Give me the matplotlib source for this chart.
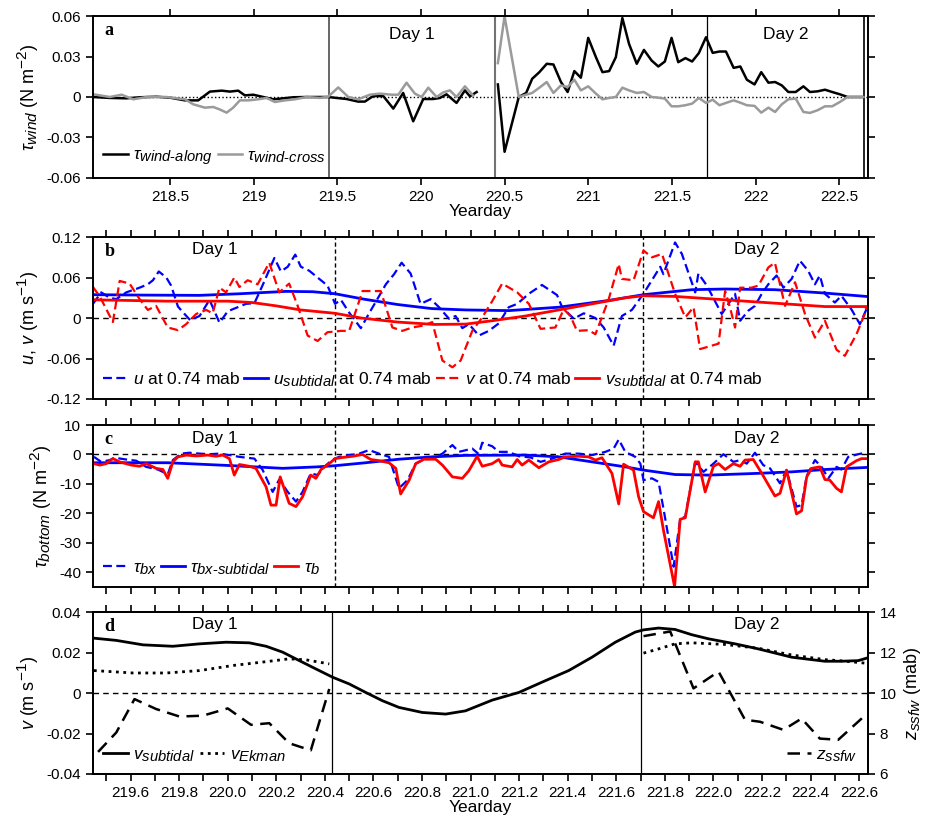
import matplotlib.pyplot as plt
import matplotlib._mathtext as mathtext_impl
from matplotlib.ticker import MultipleLocator, FuncFormatter

plt.rcParams['font.family'] = ['Liberation Sans', 'DejaVu Sans']
plt.rcParams['font.size'] = 11
plt.rcParams['mathtext.fontset'] = 'custom'
plt.rcParams['mathtext.rm'] = 'Liberation Sans'
plt.rcParams['mathtext.it'] = 'Liberation Sans:italic'
plt.rcParams['mathtext.bf'] = 'Liberation Sans:bold'
plt.rcParams['axes.linewidth'] = 1.4
# larger sub/superscripts for the long italic subscripts
mathtext_impl.SHRINK_FACTOR = 0.85

# ---- panel a: wind stress ----
wind_t1 = [218.042, 218.141, 218.241, 218.321, 218.420, 218.500, 218.590, 218.669, 218.709, 218.739,
           218.809, 218.859, 218.908, 218.948, 218.998, 219.058, 219.118, 219.177, 219.237, 219.317,
           219.396, 219.446, 219.496, 219.556, 219.625, 219.665, 219.715, 219.775, 219.835, 219.894,
           219.954, 220.014, 220.074, 220.114, 220.153, 220.213, 220.263, 220.293, 220.333]
along_1 = [0, -0.0007, -0.001, -0.0002, 0.0002, -0.0005, -0.0025, -0.0025, 0.0012, 0.004,
           0.0047, 0.004, 0.0047, 0.0012, 0.0017, 0, -0.0017, -0.001, -0.0002, 0,
           0, 0.0, -0.0007, -0.0015, -0.0034, -0.0034, 0.0007, 0.0007, -0.0086, 0.003,
           -0.018, -0.0015, -0.0015, -0.0007, 0.002, -0.0044, 0.0049, 0.0005, 0.0037]
cross_t1 = [218.042, 218.141, 218.211, 218.281, 218.361, 218.480, 218.590, 218.639, 218.709, 218.759,
            218.799, 218.839, 218.878, 218.918, 218.968, 219.028, 219.078, 219.127, 219.187, 219.247,
            219.317, 219.396, 219.446, 219.506, 219.566, 219.625, 219.695, 219.755, 219.825, 219.865,
            219.914, 219.964, 220.004, 220.044, 220.094, 220.133, 220.173, 220.213, 220.263, 220.313]
cross_1 = [0.002, 0, 0.0017, -0.0017, 0, 0, -0.0017, -0.0054, -0.0079, -0.0074,
           -0.0093, -0.0116, -0.0079, -0.0025, -0.0025, -0.0017, -0.0007, -0.0037, -0.0025, -0.0017,
           0, -0.0007, 0.0002, 0.0071, 0, -0.0017, 0.0017, 0.0025, 0.0017, 0.0017,
           0.0106, 0.0025, 0, 0.0069, 0, 0.0034, 0.0049, 0, 0.0079, 0.001]
wind_t2 = [220.460, 220.500, 220.585, 220.629, 220.665, 220.708, 220.752, 220.792, 220.837, 220.877,
           220.917, 220.956, 221.000, 221.046, 221.085, 221.125, 221.165, 221.204, 221.244, 221.290,
           221.333, 221.379, 221.419, 221.458, 221.498, 221.538, 221.581, 221.621, 221.661, 221.704,
           221.744, 221.784, 221.823, 221.869, 221.909, 221.948, 221.994, 222.034, 222.077, 222.117,
           222.157, 222.196, 222.240, 222.286, 222.325, 222.371, 222.415, 222.458, 222.504, 222.550,
           222.613, 222.645]
along_2 = [0.0093, -0.0406, 0, 0.003, 0.0135, 0.0184, 0.0246, 0.0241, 0.0111, 0.0037,
           0.0192, 0.0143, 0.0438, 0.0295, 0.0184, 0.0192, 0.0295, 0.0585, 0.0393, 0.0246,
           0.0349, 0.027, 0.0226, 0.0263, 0.0438, 0.0258, 0.0288, 0.0263, 0.0325, 0.0443,
           0.0327, 0.0337, 0.0337, 0.0216, 0.0226, 0.0128, 0.0093, 0.0184, 0.0106, 0.0111,
           0.0086, 0.0037, 0.0037, 0.0079, 0.0037, 0.0042, 0.0054, 0.0037, 0.002, 0,
           0, 0]
cross_2 = [0.0251, 0.0598, 0, 0.0017, 0.003, 0.0069, 0.0111, 0.003, 0.0086, 0.0074,
           0.0128, 0.0049, 0.0079, 0.0025, -0.0017, -0.0007, 0, 0.0069, 0.0049, 0.003,
           0.0037, 0, -0.0005, -0.0012, -0.0069, -0.0069, -0.0061, -0.0049, -0.0007, -0.0044,
           -0.002, -0.0061, -0.0044, -0.0025, -0.0042, -0.0061, -0.0066, -0.0116, -0.0079, -0.0111,
           -0.0054, -0.0017, -0.0012, -0.0111, -0.0118, -0.0098, -0.0069, -0.0069, -0.0037, 0,
           0, 0]

# ---- panel b: near-bottom velocity ----
u_t = [219.445, 219.479, 219.514, 219.541, 219.582, 219.637, 219.671, 219.692, 219.716, 219.747,
       219.767, 219.795, 219.822, 219.845, 219.884, 219.925, 219.966, 220.000, 220.034, 220.075,
       220.110, 220.144, 220.192, 220.219, 220.247, 220.278, 220.301, 220.336, 220.370, 220.411,
       220.442, 220.466, 220.500, 220.548, 220.582, 220.616, 220.651, 220.685, 220.716, 220.753,
       220.794, 220.836, 220.870, 220.911, 220.938, 220.966, 220.993, 221.034, 221.075, 221.116,
       221.157, 221.192, 221.240, 221.294, 221.356, 221.377, 221.425, 221.466, 221.514, 221.548,
       221.589, 221.623, 221.664, 221.712, 221.781, 221.794, 221.842, 221.870, 221.925, 221.938,
       221.973, 222.034, 222.062, 222.089, 222.110, 222.144, 222.171, 222.199, 222.226, 222.260,
       222.288, 222.322, 222.356, 222.390, 222.418, 222.438, 222.459, 222.500, 222.527, 222.568,
       222.603, 222.630]
u_raw = [0.021, 0.038, 0.030, 0.028, 0.038, 0.045, 0.050, 0.056, 0.069, 0.060,
         0.048, 0.017, 0.006, -0.003, 0.003, 0.027, -0.007, 0.010, 0.015, 0.021,
         0.022, 0.049, 0.089, 0.069, 0.076, 0.094, 0.076, 0.070, 0.060, 0.048,
         0.021, 0.027, 0.008, -0.015, 0.007, 0.028, 0.050, 0.065, 0.082, 0.066,
         0.021, 0.028, 0.016, -0.001, 0.003, -0.015, -0.009, -0.026, -0.019, -0.008,
         0.016, 0.021, 0.036, 0.049, 0.034, 0.016, -0.001, 0.007, 0.0, -0.014,
         -0.041, 0.003, 0.012, 0.036, 0.076, 0.065, 0.112, 0.095, 0.038, 0.066,
         0.048, 0.006, 0.021, 0.036, -0.004, 0.011, 0.018, 0.036, 0.050, 0.063,
         0.045, 0.058, 0.085, 0.070, 0.050, 0.063, 0.036, 0.023, 0.033, 0.013,
         -0.009, 0.013]
v_t = [219.445, 219.473, 219.527, 219.555, 219.596, 219.637, 219.671, 219.705, 219.753, 219.795,
       219.829, 219.870, 219.911, 219.938, 219.966, 219.993, 220.027, 220.048, 220.082, 220.123,
       220.171, 220.212, 220.253, 220.288, 220.329, 220.370, 220.411, 220.442, 220.466, 220.500,
       220.555, 220.630, 220.678, 220.719, 220.760, 220.808, 220.842, 220.884, 220.925, 220.959,
       221.007, 221.048, 221.089, 221.130, 221.192, 221.240, 221.288, 221.349, 221.384, 221.411,
       221.438, 221.486, 221.514, 221.568, 221.610, 221.623, 221.671, 221.712, 221.747, 221.788,
       221.842, 221.884, 221.918, 221.945, 222.021, 222.048, 222.068, 222.089, 222.110, 222.157,
       222.185, 222.226, 222.253, 222.295, 222.336, 222.377, 222.418, 222.459, 222.507, 222.541,
       222.589, 222.623, 222.630]
v_raw = [0.046, 0.032, -0.006, 0.055, 0.051, 0.028, 0.012, 0.018, -0.014, -0.018,
         -0.009, 0.006, 0.012, 0.007, 0.045, 0.038, 0.060, 0.046, 0.056, 0.050,
         0.082, 0.038, 0.051, 0.018, -0.026, -0.034, -0.021, -0.020, -0.019, -0.019,
         0.040, 0.040, -0.014, -0.019, -0.014, -0.011, -0.006, -0.063, -0.073, -0.063,
         -0.019, 0.001, 0.025, 0.051, 0.038, 0.021, -0.016, -0.014, 0.013, 0.003,
         -0.019, -0.018, -0.024, 0.027, 0.080, 0.058, 0.056, 0.100, 0.090, 0.095,
         0.036, 0.001, 0.016, -0.046, -0.038, 0.040, 0.016, -0.014, 0.045, 0.045,
         0.048, 0.075, 0.082, 0.018, 0.053, 0.006, -0.029, -0.004, -0.047, -0.056,
         -0.024, 0.006, 0.018]
usub_t = [219.445, 219.65, 219.884, 220.05, 220.24, 220.35, 220.442, 220.56, 220.70, 220.84,
          220.98, 221.157, 221.363, 221.568, 221.712, 221.911, 222.048, 222.253, 222.459, 222.63]
u_sub = [0.0346, 0.034, 0.0336, 0.036, 0.0395, 0.039, 0.036, 0.028, 0.020, 0.014,
         0.012, 0.011, 0.016, 0.026, 0.0346, 0.042, 0.043, 0.042, 0.037, 0.032]
vsub_t = [219.445, 219.75, 220.0, 220.1, 220.2, 220.3, 220.442, 220.55, 220.7, 220.85,
          220.98, 221.089, 221.226, 221.363, 221.5, 221.637, 221.712, 221.842, 222.048, 222.253,
          222.459, 222.63]
v_sub = [0.027, 0.025, 0.025, 0.023, 0.018, 0.012, 0.007, 0.0, -0.006, -0.0095,
         -0.009, -0.004, 0.003, 0.012, 0.021, 0.030, 0.033, 0.032, 0.027, 0.022,
         0.017, 0.017]

# ---- panel c: bottom stress ----
tbx_t = [219.449, 219.479, 219.514, 219.534, 219.582, 219.623, 219.664, 219.712, 219.753, 219.774,
         219.808, 219.842, 219.884, 219.925, 219.966, 220.007, 220.048, 220.110, 220.144, 220.185,
         220.212, 220.247, 220.281, 220.308, 220.342, 220.370, 220.397, 220.432, 220.459, 220.500,
         220.541, 220.582, 220.623, 220.664, 220.705, 220.740, 220.774, 220.808, 220.842, 220.884,
         220.925, 220.952, 221.007, 221.034, 221.048, 221.089, 221.116, 221.157, 221.199, 221.247,
         221.288, 221.336, 221.390, 221.445, 221.500, 221.555, 221.589, 221.610, 221.637, 221.678,
         221.699, 221.712, 221.747, 221.774, 221.794, 221.836, 221.863, 221.884, 221.925, 221.959,
         222.000, 222.041, 222.082, 222.110, 222.137, 222.171, 222.205, 222.233, 222.274, 222.301,
         222.342, 222.363, 222.384, 222.418, 222.445, 222.473, 222.507, 222.527, 222.555, 222.596,
         222.630]
tau_bx = [-0.8, -2.5, -1.9, -1.1, -1.7, -2.1, -4.2, -5.1, -6.7, -1.9,
          0.3, 0.6, 0.3, 0.1, 0.3, -0.2, -0.8, -1.4, -5.3, -12.7,
          -8.5, -12.7, -16.0, -12.7, -6.4, -7.0, -4.2, -1.7, -0.8, -0.2,
          0.3, 1.5, 0.3, -0.8, -11.5, -8.7, -3.1, -1.7, -1.4, 0.3,
          3.2, 0.9, 2.0, 0.1, 4.0, 2.8, 0.9, 0.9, -0.6, -1.0,
          -2.5, -1.4, 0.3, 0.3, -0.2, 0.9, 2.0, 5.1, 0.9, -0.8,
          -3.1, -8.7, -8.1, -9.3, -18.3, -38.1, -22.0, -21.1, -2.5, -5.9,
          -3.1, 0.1, -2.5, -1.9, -3.1, 0.6, -3.6, -4.7, -9.8, -5.3,
          -17.7, -17.2, -7.3, -1.9, -4.2, -8.1, -4.2, -5.1, -0.8, 0.1,
          0.7]
tb_t = [219.449, 219.473, 219.500, 219.527, 219.555, 219.603, 219.637, 219.664, 219.705, 219.733,
        219.753, 219.774, 219.795, 219.829, 219.870, 219.918, 219.952, 219.979, 220.007, 220.027,
        220.048, 220.089, 220.116, 220.158, 220.178, 220.199, 220.216, 220.253, 220.281, 220.308,
        220.342, 220.363, 220.384, 220.418, 220.442, 220.473, 220.514, 220.555, 220.589, 220.623,
        220.664, 220.692, 220.712, 220.747, 220.774, 220.808, 220.856, 220.884, 220.925, 220.966,
        220.993, 221.027, 221.048, 221.089, 221.116, 221.130, 221.171, 221.192, 221.212, 221.240,
        221.281, 221.322, 221.363, 221.390, 221.445, 221.486, 221.514, 221.541, 221.582, 221.610,
        221.630, 221.671, 221.692, 221.712, 221.753, 221.774, 221.794, 221.840, 221.863, 221.884,
        221.925, 221.938, 221.966, 222.000, 222.021, 222.048, 222.082, 222.110, 222.130, 222.164,
        222.199, 222.253, 222.274, 222.301, 222.342, 222.363, 222.384, 222.404, 222.438, 222.459,
        222.479, 222.507, 222.527, 222.548, 222.589, 222.610, 222.630]
tau_b = [-3.1, -3.6, -3.1, -1.4, -2.5, -3.6, -4.0, -3.1, -4.7, -5.1,
         -8.1, -2.5, -0.8, -0.2, -0.5, -0.2, -0.6, -0.2, -1.4, -7.0,
         -3.4, -4.0, -4.7, -11.0, -17.2, -17.2, -7.6, -16.6, -17.7, -14.4,
         -7.0, -8.1, -5.1, -3.1, -1.4, -1.0, -0.6, 0.0, -1.7, -2.1,
         -2.8, -4.7, -13.4, -8.7, -3.1, -1.6, -1.6, -3.6, -7.6, -8.1,
         -5.5, -0.6, -4.0, -3.1, -1.7, -3.6, -4.2, -1.7, -3.6, -1.9,
         -4.5, -2.5, -1.7, -0.8, -0.6, -0.8, -1.9, -1.1, -6.4, -16.8,
         -3.3, -5.3, -14.4, -19.4, -21.5, -16.0, -25.6, -44.9, -22.0, -21.5,
         -2.5, -2.5, -12.7, -4.0, -3.1, -5.1, -3.1, -4.0, -1.9, -1.7,
         -6.4, -14.1, -13.2, -5.3, -20.2, -19.1, -7.6, -4.7, -4.2, -8.5,
         -8.7, -11.5, -12.7, -4.2, -2.1, -1.4, -1.4]
tbsub_t = [219.449, 219.753, 220.021, 220.226, 220.370, 220.442, 220.568, 220.705, 220.842, 220.979,
           221.226, 221.363, 221.5, 221.637, 221.712, 221.842, 221.979, 222.185, 222.322, 222.459,
           222.630]
tau_bx_sub = [-2.8, -2.8, -3.8, -4.7, -4.2, -3.8, -2.8, -1.6, -0.8, -0.3,
              -0.2, -0.8, -2.5, -4.2, -5.3, -6.8, -7.0, -6.4, -5.9, -5.1,
              -4.4]

# ---- panel d: subtidal vs Ekman velocity, SSFW height ----
vs_t = [219.449, 219.541, 219.651, 219.774, 219.884, 219.993, 220.089, 220.158, 220.226, 220.295,
        220.363, 220.432, 220.500, 220.568, 220.637, 220.705, 220.801, 220.897, 220.979, 221.089,
        221.199, 221.308, 221.404, 221.500, 221.596, 221.678, 221.712, 221.774, 221.842, 221.911,
        221.979, 222.089, 222.185, 222.322, 222.459, 222.527, 222.596, 222.630]
v_subtidal = [0.0271, 0.026, 0.0238, 0.0231, 0.0243, 0.0251, 0.0248, 0.0231, 0.0202, 0.016,
              0.0119, 0.0078, 0.0045, 0.0003, -0.0038, -0.0071, -0.0096, -0.0104, -0.0088, -0.0035,
              0.0003, 0.0061, 0.0111, 0.0177, 0.0251, 0.0301, 0.0312, 0.0321, 0.0314, 0.0288,
              0.0268, 0.0243, 0.0218, 0.0177, 0.0157, 0.0157, 0.016, 0.0172]
ek_t1 = [219.449, 219.610, 219.747, 219.884, 220.021, 220.158, 220.253, 220.322, 220.418]
v_ekman_1 = [0.0111, 0.0099, 0.0099, 0.0111, 0.0136, 0.0155, 0.0169, 0.0164, 0.0144]
ek_t2 = [221.712, 221.774, 221.842, 221.911, 222.048, 222.185, 222.322, 222.459, 222.527, 222.630]
v_ekman_2 = [0.0197, 0.0218, 0.0243, 0.0248, 0.024, 0.0221, 0.0188, 0.0165, 0.0159, 0.0147]
z_t1 = [219.466, 219.541, 219.616, 219.705, 219.801, 219.897, 220.0, 220.096, 220.171, 220.253,
        220.342, 220.418]
z_ssfw_1 = [7.09, 8.05, 9.70, 9.21, 8.84, 8.88, 9.24, 8.43, 8.51, 7.52, 7.17, 10.2]
z_t2 = [221.712, 221.822, 221.918, 222.021, 222.130, 222.192, 222.288, 222.363, 222.438, 222.514,
        222.623]
z_ssfw_2 = [12.81, 13.04, 10.23, 11.06, 8.68, 8.58, 8.18, 8.74, 7.75, 7.69, 8.88]

day1_start, day1_end = 219.45, 220.44
day2_start, day2_end = 221.71, 222.65

BLUE = '#0000ff'
RED = '#ff0000'
GRAY = '#9a9a9a'
DASH = (0, (4, 2))
LEG = dict(frameon=False, fontsize=12.5, handlelength=1.4, handletextpad=0.3,
           borderaxespad=0.2)
gfmt = FuncFormatter(lambda v, p: '%g' % round(v, 4))


def style_axes(ax, right=True):
    ax.tick_params(which='both', direction='out', length=5, width=1.2,
                   top=True, right=right, labelsize=11)


def panel_label(ax, letter):
    ax.text(0.015, 0.91, letter, transform=ax.transAxes, fontsize=13,
            fontweight='bold', family='Liberation Serif', va='center')


def day_labels(ax, y):
    ax.text((day1_start + day1_end) / 2, y, 'Day 1', ha='center', va='center', fontsize=12.5)
    ax.text((day2_start + day2_end) / 2, y, 'Day 2', ha='center', va='center', fontsize=12.5)


fig = plt.figure(figsize=(9.25, 8.22), dpi=100)
L, W, H = 0.1005, 0.8375, 0.197
ax1 = fig.add_axes([L, 0.7835, W, H])
ax2 = fig.add_axes([L, 0.5146, W, H])
ax3 = fig.add_axes([L, 0.2859, W, H])
ax4 = fig.add_axes([L, 0.0584, W, H])

# panel a
ax1.axhline(0, color='k', lw=1, ls=':')
ax1.axvline(day1_start, color='0.3', lw=1.2)
ax1.axvline(220.44, color='0.45', lw=1.5)
ax1.axvline(day2_start, color='k', lw=0.9)
ax1.axvline(day2_end, color='k', lw=1.2)
ax1.plot(wind_t1, along_1, color='k', lw=1.8, label=r'$\tau_{wind\text{-}along}$')
ax1.plot(cross_t1, cross_1, color=GRAY, lw=1.8, label=r'$\tau_{wind\text{-}cross}$')
ax1.plot(wind_t2, along_2, color='k', lw=1.8)
ax1.plot(wind_t2, cross_2, color=GRAY, lw=1.8)
ax1.set_xlim(218.04, 222.67)
ax1.set_ylim(-0.06, 0.06)
ax1.xaxis.set_major_locator(MultipleLocator(0.5))
ax1.yaxis.set_major_locator(MultipleLocator(0.03))
ax1.xaxis.set_major_formatter(gfmt)
ax1.yaxis.set_major_formatter(gfmt)
ax1.set_xlabel('Yearday', fontsize=12.5, labelpad=0)
ax1.set_ylabel(r'$\tau_{wind}$ (N m$^{-2}$)', fontsize=13)
ax1.legend(loc='lower left', ncol=2, columnspacing=0.3, **LEG)
style_axes(ax1)
panel_label(ax1, 'a')
ax1.text((day1_start + day1_end) / 2, 0.0465, 'Day 1', ha='center', va='center', fontsize=12.5)
ax1.text((day2_start + day2_end) / 2, 0.0465, 'Day 2', ha='center', va='center', fontsize=12.5)

# panels b-d share the deployment window
for ax in (ax2, ax3, ax4):
    ax.set_xlim(219.445, 222.635)
    ax.xaxis.set_minor_locator(MultipleLocator(0.1))

# panel b
ax2.axhline(0, color='k', lw=1, ls=(0, (4, 3)))
ax2.axvline(220.44, color='k', lw=1, ls=(0, (3, 2)))
ax2.axvline(day2_start, color='k', lw=1, ls=(0, (3, 2)))
ax2.plot(u_t, u_raw, color=BLUE, lw=1.6, ls=DASH, label=r'$u$ at 0.74 mab')
ax2.plot(usub_t, u_sub, color=BLUE, lw=2, label=r'$u_{subtidal}$ at 0.74 mab')
ax2.plot(v_t, v_raw, color=RED, lw=1.6, ls=DASH, label=r'$v$ at 0.74 mab')
ax2.plot(vsub_t, v_sub, color=RED, lw=2, label=r'$v_{subtidal}$ at 0.74 mab')
ax2.set_ylim(-0.12, 0.12)
ax2.yaxis.set_major_locator(MultipleLocator(0.06))
ax2.yaxis.set_major_formatter(gfmt)
ax2.xaxis.set_major_locator(MultipleLocator(0.1))
ax2.tick_params(labelbottom=False)
ax2.set_ylabel(r'$u$, $v$ (m s$^{-1}$)', fontsize=13)
ax2.legend(loc='lower left', ncol=4, columnspacing=0.2, **LEG)
style_axes(ax2)
panel_label(ax2, 'b')
day_labels(ax2, 0.101)

# panel c
ax3.axhline(0, color='k', lw=1, ls=(0, (4, 3)))
ax3.axvline(220.44, color='k', lw=1, ls=(0, (3, 2)))
ax3.axvline(day2_start, color='k', lw=1, ls=(0, (3, 2)))
ax3.plot(tbx_t, tau_bx, color=BLUE, lw=1.6, ls=DASH, label=r'$\tau_{bx}$')
ax3.plot(tbsub_t, tau_bx_sub, color=BLUE, lw=2, label=r'$\tau_{bx\text{-}subtidal}$')
ax3.plot(tb_t, tau_b, color=RED, lw=2, label=r'$\tau_b$')
ax3.set_ylim(-45, 10)
ax3.yaxis.set_major_locator(MultipleLocator(10))
ax3.yaxis.set_major_formatter(gfmt)
ax3.xaxis.set_major_locator(MultipleLocator(0.1))
ax3.tick_params(labelbottom=False)
ax3.set_ylabel(r'$\tau_{bottom}$ (N m$^{-2}$)', fontsize=13)
ax3.legend(loc='lower left', ncol=3, columnspacing=0.2, **LEG)
style_axes(ax3)
panel_label(ax3, 'c')
day_labels(ax3, 5.5)

# panel d
ax4r = ax4.twinx()
ax4.axhline(0, color='k', lw=1, ls=(0, (4, 3)))
ax4.axvline(220.43, color='k', lw=0.9)
ax4.axvline(221.70, color='k', lw=0.9)
ax4.plot(vs_t, v_subtidal, color='k', lw=2, label=r'$v_{subtidal}$')
ax4.plot(ek_t1, v_ekman_1, color='k', lw=2, ls=':', label=r'$v_{Ekman}$')
ax4.plot(ek_t2, v_ekman_2, color='k', lw=2, ls=':')
ax4r.plot(z_t1, z_ssfw_1, color='k', lw=1.8, ls=(0, (5, 3)), label=r'$z_{ssfw}$')
ax4r.plot(z_t2, z_ssfw_2, color='k', lw=1.8, ls=(0, (5, 3)))
ax4.set_ylim(-0.04, 0.04)
ax4r.set_ylim(6, 14)
ax4.yaxis.set_major_locator(MultipleLocator(0.02))
ax4.yaxis.set_major_formatter(gfmt)
ax4r.yaxis.set_major_locator(MultipleLocator(2))
ax4.xaxis.set_major_locator(MultipleLocator(0.2))
ax4.xaxis.set_major_formatter(FuncFormatter(lambda v, p: '%.1f' % v))
ax4.set_xlabel('Yearday', fontsize=12.5, labelpad=0)
ax4.set_ylabel(r'$v$ (m s$^{-1}$)', fontsize=13)
ax4r.set_ylabel(r'$z_{ssfw}$ (mab)', fontsize=13)
ax4.legend(loc='lower left', ncol=2, columnspacing=0.3, **LEG)
ax4r.legend(loc='lower right', **LEG)
style_axes(ax4, right=False)
ax4r.tick_params(direction='out', length=5, width=1.2, labelsize=11)
panel_label(ax4, 'd')
day_labels(ax4, 0.034)

fig.savefig('out.png', dpi=100)
